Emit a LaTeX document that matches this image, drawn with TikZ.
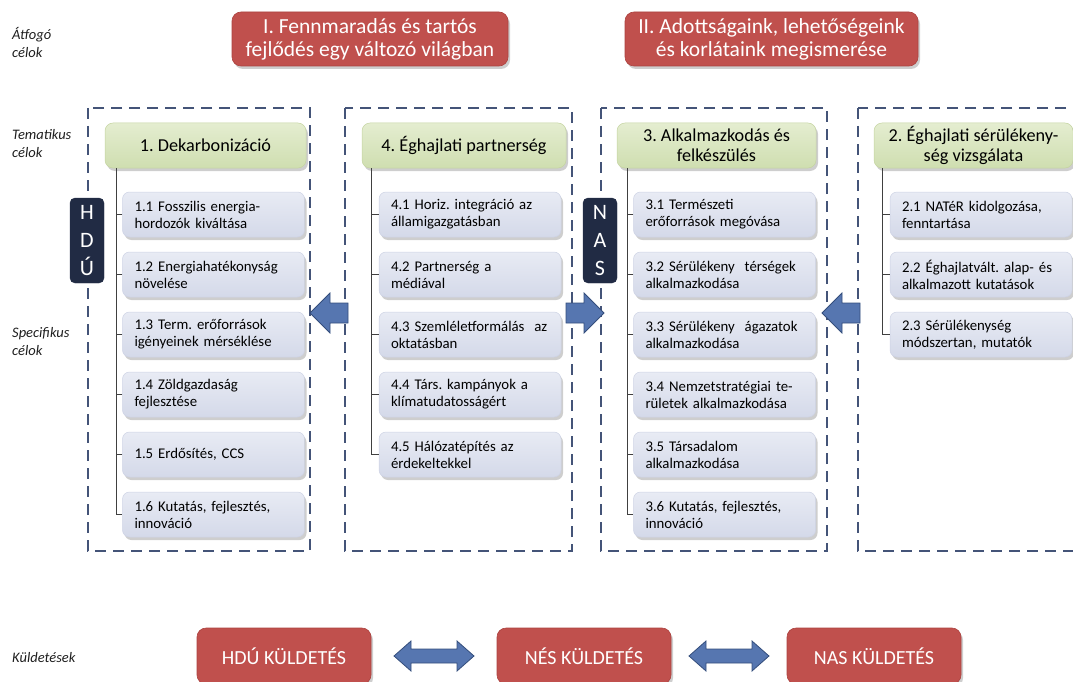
\documentclass[tikz,border=0pt]{standalone}
\usepackage{fontspec}
\setmainfont{Carlito}
\frenchspacing
\usetikzlibrary{shadows,calc}
\definecolor{redfill}{RGB}{192,80,77}
\definecolor{redline}{RGB}{172,66,63}
\definecolor{greentop}{RGB}{228,237,208}
\definecolor{greenbot}{RGB}{207,222,176}
\definecolor{greenline}{RGB}{196,212,160}
\definecolor{subtop}{RGB}{232,235,244}
\definecolor{subbot}{RGB}{212,217,233}
\definecolor{subline}{RGB}{205,210,228}
\definecolor{dashcol}{RGB}{68,84,120}
\definecolor{navy}{RGB}{33,43,68}
\definecolor{arrowfill}{RGB}{86,118,176}
\definecolor{arrowline}{RGB}{52,78,124}
\definecolor{labeltext}{RGB}{30,30,30}
\begin{document}
\begin{tikzpicture}[x=1pt,y=-1pt,
  shadowed/.style={drop shadow={shadow xshift=2pt,shadow yshift=-3pt,opacity=0.35,fill=black!55}},
  topgoal/.style={shadowed,fill=redfill,draw=redline,line width=0.6pt,rounded corners=9pt,text=white,align=center,
     font=\fontsize{21.5}{23}\selectfont,inner sep=0pt},
  mission/.style={shadowed,fill=redfill,draw=redline,line width=0.6pt,rounded corners=9pt,text=white,align=center,
     font=\fontsize{20}{22}\selectfont,minimum width=174pt,minimum height=56pt,inner sep=0pt},
  theme/.style={shadowed,top color=greentop,bottom color=greenbot,draw=greenline,line width=0.5pt,rounded corners=8pt,
     text=black,align=center,font=\fontsize{18.2}{20}\selectfont,minimum height=45pt,inner sep=0pt},
  spec/.style={shadowed,top color=subtop,bottom color=subbot,draw=subline,line width=0.5pt,rounded corners=7pt,
     text=black,align=left,font=\fontsize{14.8}{17}\selectfont,minimum height=45pt,text width=158pt,inner xsep=12pt,inner ysep=0pt},
  vlabel/.style={fill=navy,draw=navy,rounded corners=5pt,text=white,align=center,
     font=\fontsize{22}{28}\selectfont,minimum width=34pt,minimum height=85pt,inner sep=0pt},
  sidelabel/.style={anchor=west,align=left,text=labeltext,font=\fontsize{14.5}{18}\selectfont\itshape,inner sep=0pt},
  dashframe/.style={draw=dashcol,line width=2.8pt,dash pattern=on 11pt off 7pt},
  trunk/.style={draw=black!75,line width=0.8pt},
  barrow/.style={fill=arrowfill,draw=arrowline,line width=0.8pt,line join=miter},
  larrow/.pic={\path[barrow] (0,0) -- (20,-20) -- (20,-10) -- (38,-10) -- (38,10) -- (20,10) -- (20,20) -- cycle;},
  rarrow/.pic={\path[barrow] (0,0) -- (-20,-20) -- (-20,-10) -- (-38,-10) -- (-38,10) -- (-20,10) -- (-20,20) -- cycle;},
  dblarrow/.pic={\path[barrow] (-40,0) -- (-23,-15) -- (-23,-7) -- (23,-7) -- (23,-15) -- (40,0) -- (23,15) -- (23,7) -- (-23,7) -- (-23,15) -- cycle;}
]
\useasboundingbox (0,0) rectangle (1073,682);
\clip (0,0) rectangle (1073,682);

% side labels
\node[sidelabel] (lab1) at (12,42) {Átfogó\\célok};
\node[sidelabel] (lab2) at (12,144) {Tematikus\\célok};
\node[sidelabel] (lab3) at (12,342) {Specifikus\\célok};
\node[sidelabel] (lab4) at (12,658) {Küldetések};

% top goals
\node[topgoal,minimum width=276pt,minimum height=54pt] (g1) at (370,39) {I. Fennmaradás és tartós\\fejlődés egy változó világban};
\node[topgoal,minimum width=293pt,minimum height=54pt] (g2) at (771.5,39) {II. Adottságaink, lehetőségeink\\és korlátaink megismerése};

% dashed frames
\draw[dashframe] (88,108) rectangle (310,551);
\draw[dashframe] (345,108) rectangle (572,551);
\draw[dashframe] (601,108) rectangle (827,551);
\draw[dashframe] (858,108) rectangle (1095,551);

% column 1
\node[theme,minimum width=201pt] (h1) at (205.5,145.5) {1. Dekarbonizáció};
\node[spec] (s11) at (213.5,214.5) {1.1 Fosszilis energia-\\hordozók kiváltása};
\node[spec] (s12) at (213.5,274.5) {1.2 Energiahatékonyság\\növelése};
\node[spec] (s13) at (213.5,334.5) {1.3 Term. erőforrások\\igényeinek mérséklése};
\node[spec] (s14) at (213.5,394.5) {1.4 Zöldgazdaság\\fejlesztése};
\node[spec] (s15) at (213.5,454.5) {1.5 Erdősítés, CCS};
\node[spec] (s16) at (213.5,514.5) {1.6 Kutatás, fejlesztés,\\innováció};
\coordinate (t1) at ($(h1.south west)+(12,0)$);
\draw[trunk] (t1) |- (s16.west);
\foreach \i in {1,...,5} {\draw[trunk] (s1\i.west) -- (s1\i.west -| t1);}

% column 2
\node[theme,minimum width=204pt] (h2) at (464,145.5) {4. Éghajlati partnerség};
\node[spec] (s41) at (470,214.5) {4.1 Horiz. integráció az\\államigazgatásban};
\node[spec] (s42) at (470,274.5) {4.2 Partnerség a\\médiával};
\node[spec] (s43) at (470,334.5) {4.3 Szemléletformálás\ \ az\\oktatásban};
\node[spec] (s44) at (470,394.5) {4.4 Társ. kampányok a\\klímatudatosságért};
\node[spec] (s45) at (470,454.5) {4.5 Hálózatépítés az\\érdekeltekkel};
\coordinate (t2) at ($(h2.south west)+(10,0)$);
\draw[trunk] (t2) |- (s45.west);
\foreach \i in {1,...,4} {\draw[trunk] (s4\i.west) -- (s4\i.west -| t2);}

% column 3
\node[theme,minimum width=199pt] (h3) at (716.5,145.5) {3. Alkalmazkodás és\\felkészülés};
\node[spec] (s31) at (724.5,214.5) {3.1 Természeti\\erőforrások megóvása};
\node[spec] (s32) at (724.5,274.5) {3.2 Sérülékeny\ \ térségek\\alkalmazkodása};
\node[spec] (s33) at (724.5,334.5) {3.3 Sérülékeny\ \ ágazatok\\alkalmazkodása};
\node[spec] (s34) at (724.5,394.5) {3.4 Nemzetstratégiai te-\\rületek alkalmazkodása};
\node[spec] (s35) at (724.5,454.5) {3.5 Társadalom\\alkalmazkodása};
\node[spec] (s36) at (724.5,514.5) {3.6 Kutatás, fejlesztés,\\innováció};
\coordinate (t3) at ($(h3.south west)+(11,0)$);
\draw[trunk] (t3) |- (s36.west);
\foreach \i in {1,...,5} {\draw[trunk] (s3\i.west) -- (s3\i.west -| t3);}

% column 4
\node[theme,minimum width=199pt] (h4) at (973.5,145.5) {2. Éghajlati sérülékeny-\\ség vizsgálata};
\node[spec] (s21) at (981,214.5) {2.1 NATéR kidolgozása,\\fenntartása};
\node[spec] (s22) at (981,274.5) {2.2 Éghajlatvált. alap- és\\alkalmazott kutatások};
\node[spec] (s23) at (981,334.5) {2.3 Sérülékenység\\módszertan, mutatók};
\coordinate (t4) at ($(h4.south west)+(9,0)$);
\draw[trunk] (t4) |- (s23.west);
\foreach \i in {1,2} {\draw[trunk] (s2\i.west) -- (s2\i.west -| t4);}

% vertical labels
\node[vlabel] (hdu) at (87,240.5) {H\\D\\Ú};
\node[vlabel] (nas) at (600,240.5) {N\\A\\S};

% block arrows
\pic at (310,313) {larrow};
\pic at (604,313) {rarrow};
\pic at (822,313) {larrow};

% missions
\node[mission] (m1) at (284,656) {HDÚ KÜLDETÉS};
\node[mission] (m2) at (584,656) {NÉS KÜLDETÉS};
\node[mission] (m3) at (874,656) {NAS KÜLDETÉS};
\pic at ($(m1.east)!0.5!(m2.west)$) {dblarrow};
\pic at ($(m2.east)!0.5!(m3.west)$) {dblarrow};
\end{tikzpicture}
\end{document}
